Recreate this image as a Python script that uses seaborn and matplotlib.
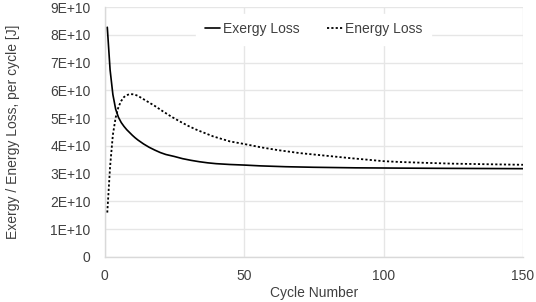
import matplotlib
matplotlib.use("Agg")
import matplotlib.pyplot as plt
import seaborn as sns
import pandas as pd
from matplotlib.ticker import FixedLocator, FixedFormatter

exergy_cycles = [1, 2, 3, 4, 5, 6, 7, 8, 9, 10, 11, 12, 13, 14, 15, 16, 18, 20, 22, 25, 28, 31, 34, 37,
                 40, 45, 50, 56, 65, 75, 90, 106, 125, 150]
exergy_loss = [8.27e10, 6.74e10, 5.85e10, 5.32e10, 5.03e10, 4.84e10, 4.70e10, 4.58e10, 4.48e10, 4.38e10,
               4.29e10, 4.21e10, 4.14e10, 4.07e10, 4.01e10, 3.95e10, 3.85e10, 3.76e10, 3.69e10, 3.62e10,
               3.54e10, 3.48e10, 3.43e10, 3.39e10, 3.36e10, 3.33e10, 3.31e10, 3.28e10, 3.25e10, 3.23e10,
               3.21e10, 3.20e10, 3.19e10, 3.18e10]

energy_cycles = [1, 2, 3, 4, 5, 6, 7, 8, 9, 10, 11, 12, 13, 14, 16, 18, 21, 24, 27, 30, 33, 36, 39, 42,
                 45, 50, 56, 62, 70, 80, 88, 100, 106, 115, 125, 137, 150]
energy_loss = [1.60e10, 3.25e10, 4.40e10, 5.02e10, 5.40e10, 5.62e10, 5.76e10, 5.83e10, 5.86e10, 5.86e10,
               5.84e10, 5.80e10, 5.74e10, 5.68e10, 5.56e10, 5.44e10, 5.24e10, 5.05e10, 4.88e10, 4.72e10,
               4.58e10, 4.46e10, 4.34e10, 4.25e10, 4.16e10, 4.07e10, 3.95e10, 3.85e10, 3.74e10, 3.64e10,
               3.56e10, 3.45e10, 3.42e10, 3.39e10, 3.36e10, 3.34e10, 3.32e10]

y_ticks = [0, 1e10, 2e10, 3e10, 4e10, 5e10, 6e10, 7e10, 8e10, 9e10]
y_tick_labels = ["0", "1E+10", "2E+10", "3E+10", "4E+10", "5E+10", "6E+10", "7E+10", "8E+10", "9E+10"]
x_ticks = [0, 50, 100, 150]
x_tick_labels = ["0", "50", "100", "150"]

sns.set_theme(style="white")
plt.rcParams['font.family'] = ['Liberation Sans', 'DejaVu Sans']

text_color = "#404040"
grid_color = "#e6e6e6"

fig = plt.figure(figsize=(5.36, 3.02), dpi=100)
ax = fig.add_axes([104.5 / 536, 1 - 257 / 302, (523 - 104.5) / 536, (257 - 7) / 302])

df_ex = pd.DataFrame({"Cycle": exergy_cycles, "Loss": exergy_loss})
df_en = pd.DataFrame({"Cycle": energy_cycles, "Loss": energy_loss})

sns.lineplot(data=df_ex, x="Cycle", y="Loss", ax=ax, color="black", linewidth=1.2,
             label="Exergy Loss", zorder=3)
sns.lineplot(data=df_en, x="Cycle", y="Loss", ax=ax, color="black", linewidth=1.3,
             linestyle=(0, (1.2, 1.2)), label="Energy Loss", zorder=3)

ax.set_xlim(0, 150)
ax.set_ylim(0, 9e10)
ax.xaxis.set_major_locator(FixedLocator(x_ticks))
ax.xaxis.set_major_formatter(FixedFormatter(x_tick_labels))
ax.yaxis.set_major_locator(FixedLocator(y_ticks))
ax.yaxis.set_major_formatter(FixedFormatter(y_tick_labels))

ax.grid(True, color=grid_color, linewidth=1.0, zorder=0)
ax.set_axisbelow(True)
for side in ["top", "right"]:
    ax.spines[side].set_visible(False)
for side in ["left", "bottom"]:
    ax.spines[side].set_color("#d9d9d9")
    ax.spines[side].set_linewidth(1.0)

ax.tick_params(axis="both", length=0, labelsize=10, colors=text_color)
ax.tick_params(axis="y", pad=10)
ax.tick_params(axis="x", pad=9)

ax.set_xlabel("Cycle Number", fontsize=10, color=text_color, labelpad=2)
ax.set_ylabel("Exergy / Energy Loss, per cycle [J]", fontsize=10, color=text_color, labelpad=22)

leg = ax.legend(loc="upper center", ncol=2, frameon=True, fontsize=10,
                handlelength=1.1, handletextpad=0.2, columnspacing=2.0,
                borderpad=0.6, borderaxespad=0.5, fancybox=False)
leg.get_frame().set_facecolor("white")
leg.get_frame().set_edgecolor("white")
leg.get_frame().set_alpha(1.0)
for t in leg.get_texts():
    t.set_color(text_color)

fig.savefig("out.png", dpi=100)
